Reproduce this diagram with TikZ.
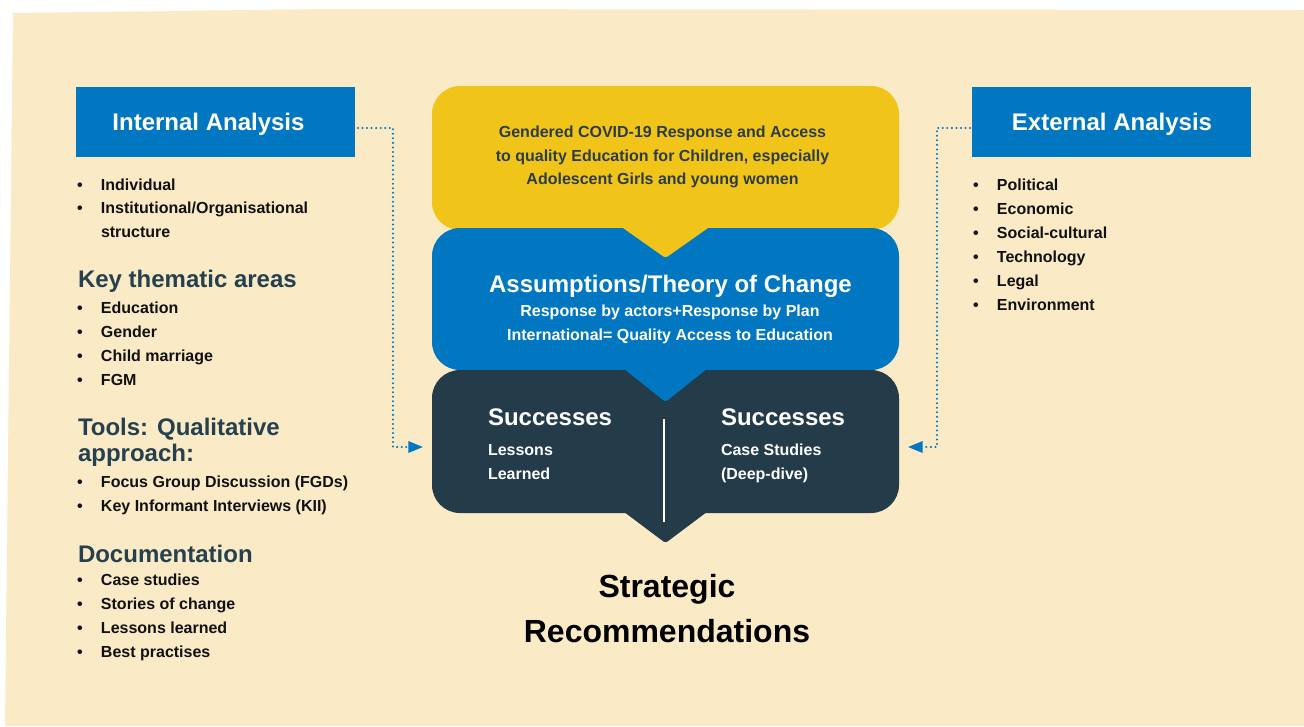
\documentclass[tikz,border=0pt]{standalone}
\usepackage{fontspec}
\setmainfont{Liberation Sans}
\usetikzlibrary{arrows.meta,calc}
\definecolor{bg}{HTML}{FAEAC6}
\definecolor{blueA}{HTML}{0077C0}
\definecolor{yel}{HTML}{F0C419}
\definecolor{dark}{HTML}{243B4A}
\definecolor{head}{HTML}{25404F}
\definecolor{ytxt}{HTML}{2E3C47}
\definecolor{txt}{HTML}{111111}
\newcommand\blt{\makebox[18pt][l]{\textbullet}}
\begin{document}
\begin{tikzpicture}[x=0.75pt,y=-0.75pt,
  every node/.style={inner sep=0pt,outer sep=0pt},
  body/.style={font=\bfseries\fontsize{12}{14}\selectfont},
  big/.style={font=\bfseries\fontsize{18}{21}\selectfont},
  item/.style={body,text=txt,anchor=base west},
  head/.style={big,text=head,anchor=base west},
  panel/.style={minimum width=350.25pt,rounded corners=21pt},
  tab/.style={fill=blueA,minimum width=209.25pt,minimum height=52.5pt},
  pointer/.style={rounded corners=2pt},
  dotarrow/.style={draw=blueA,line width=1.7pt,dash pattern=on 0pt off 3.4pt,line cap=round,-{Triangle[length=11pt,width=8.5pt]}}
]
\useasboundingbox (0,0) rectangle (1304,726);
\fill[white] (0,0) rectangle (1304,726);
\fill[bg] (13,13) -- (330,9) -- (1304,10) -- (1304,726) -- (5,726) -- cycle;

% side tabs
\node[tab] (intbox) at (215.5,122) {};
\node[big,text=white,anchor=base] (inttxt) at (208.5,130) {Internal Analysis};
\node[tab] (extbox) at (1111.5,122) {};
\node[big,text=white,anchor=base] (exttxt) at (1112,130) {External Analysis};

% central panels
\node[panel,fill=yel,minimum height=108pt] (ybox) at (665.5,158) {};
\node[panel,fill=blueA,minimum height=106.5pt] (bbox) at (665.5,299) {};
\fill[yel,pointer] ($(ybox.south)+(-51,-8)$) -- ($(ybox.south)+(0,28)$) -- ($(ybox.south)+(51,-8)$) -- cycle;
\node[panel,fill=dark,minimum height=107.25pt] (dbox) at (665.5,441.5) {};
\fill[blueA,pointer] ($(bbox.south)+(-50,-8)$) -- ($(bbox.south)+(0,32)$) -- ($(bbox.south)+(50,-8)$) -- cycle;
\fill[dark,pointer] ($(dbox.south)+(-50.7,-8)$) -- ($(dbox.south)+(0,30)$) -- ($(dbox.south)+(50.7,-8)$) -- cycle;
\coordinate (divtop) at (664,419);
\coordinate (divbot) at (664,522);
\draw[white,line width=1.1pt] (divtop) -- (divbot);

% yellow text
\node[body,text=ytxt,anchor=base] (y1) at (662.5,137) {Gendered COVID-19 Response and Access};
\node[body,text=ytxt,anchor=base] (y2) at (662.5,161) {to quality Education for Children, especially};
\node[body,text=ytxt,anchor=base] (y3) at (662.5,184) {Adolescent Girls and young women};

% blue text
\node[big,text=white,anchor=base] (b1) at (670.5,292) {Assumptions/Theory of Change};
\node[body,text=white,anchor=base] (b2) at (670,316) {Response by actors+Response by Plan};
\node[body,text=white,anchor=base] (b3) at (670,340) {International= Quality Access to Education};

% dark text
\node[big,text=white,anchor=base west] (s1) at (488,425) {Successes};
\node[body,text=white,anchor=base west] (s2) at (488,455) {Lessons};
\node[body,text=white,anchor=base west] (s3) at (488,479) {Learned};
\node[big,text=white,anchor=base west] (r1) at (721,425) {Successes};
\node[body,text=white,anchor=base west] (r2) at (721,455) {Case Studies};
\node[body,text=white,anchor=base west] (r3) at (721,479) {(Deep-dive)};

% connectors
\coordinate (inS) at ($(intbox.east)+(3,6)$);
\coordinate (inE) at (423,447);
\draw[dotarrow] (inS) -- (393,128) -- (393,447) -- (inE);
\coordinate (exS) at ($(extbox.west)+(-2,6)$);
\coordinate (exE) at (908,447);
\draw[dotarrow] (exS) -- (937,128) -- (937,447) -- (exE);

% left column
\node[item] (i1) at (77,190) {\blt Individual};
\node[item] (i2) at (77,213) {\blt Institutional/Organisational};
\node[item] (i3) at (101,237) {structure};
\node[head] (h1) at (78,287) {Key thematic areas};
\foreach \t [count=\i] in {Education,Gender,Child marriage,FGM}
  \node[item] (k\i) at (77,{289+24*\i}) {\blt\t};
\node[head] (h2) at (78,435) {Tools: Qualitative};
\node[head] (h2b) at (78,461) {approach:};
\foreach \t [count=\i] in {Focus Group Discussion (FGDs),Key Informant Interviews (KII)}
  \node[item] (t\i) at (77,{463+24*\i}) {\blt\t};
\node[head] (h3) at (78,562) {Documentation};
\foreach \t [count=\i] in {Case studies,Stories of change,Lessons learned,Best practises}
  \node[item] (d\i) at (77,{561+24*\i}) {\blt\t};

% right column
\foreach \t [count=\i] in {Political,Economic,Social-cultural,Technology,Legal,Environment}
  \node[item] (e\i) at (973,{166+24*\i}) {\blt\t};

% bottom
\node[font=\bfseries\fontsize{24}{28}\selectfont,anchor=base] (st1) at (667,597) {Strategic};
\node[font=\bfseries\fontsize{24}{28}\selectfont,anchor=base] (st2) at (667,642) {Recommendations};
\end{tikzpicture}
\end{document}
